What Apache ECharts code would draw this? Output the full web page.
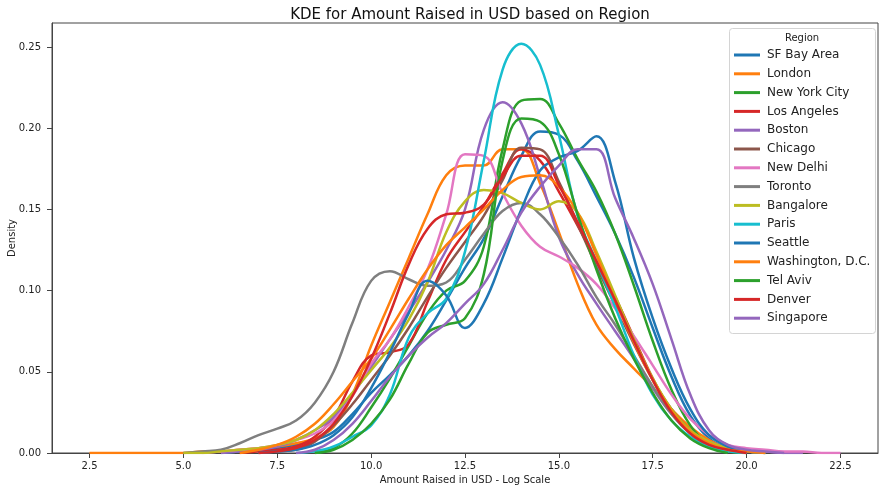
<!DOCTYPE html>
<html>
<head>
<meta charset="utf-8">
<script src="https://cdn.jsdelivr.net/npm/echarts@6/dist/echarts.min.js"></script>
<style>
  html, body { margin: 0; padding: 0; background: #fff; }
  #chart { width: 880px; height: 487px; }
</style>
</head>
<body>
<div id="chart"></div>
<script>
// Log10 of amount raised, evaluated every 0.5 from 2.5 to 22.5
const amountGrid = [2.5, 3, 3.5, 4, 4.5, 5, 5.5, 6, 6.5, 7, 7.5, 8, 8.5, 9, 9.5, 10, 10.5, 11, 11.5, 12,
  12.5, 13, 13.5, 14, 14.5, 15, 15.5, 16, 16.5, 17, 17.5, 18, 18.5, 19, 19.5, 20, 20.5, 21, 21.5, 22, 22.5];

const regions = ['SF Bay Area', 'London', 'New York City', 'Los Angeles', 'Boston', 'Chicago', 'New Delhi',
  'Toronto', 'Bangalore', 'Paris', 'Seattle', 'Washington, D.C.', 'Tel Aviv', 'Denver', 'Singapore'];

// Estimated density per region (null = outside the curve's support)
const sfBayArea = [null, null, null, null, null, null, null, 0.000, 0.001, 0.002, 0.003, 0.005, 0.008, 0.013, 0.024, 0.037, 0.048, 0.060, 0.075, 0.094,
  0.114, 0.132, 0.158, 0.183, 0.198, 0.196, 0.180, 0.158, 0.135, 0.108, 0.077, 0.047, 0.023, 0.009, 0.003, 0.001, 0.000, null, null, null, null];
const london = [0.000, 0.000, 0.000, 0.000, 0.000, 0.000, 0.001, 0.001, 0.002, 0.003, 0.004, 0.006, 0.009, 0.016, 0.036, 0.066, 0.093, 0.120, 0.147, 0.171,
  0.177, 0.177, 0.187, 0.187, 0.166, 0.136, 0.104, 0.079, 0.064, 0.052, 0.040, 0.027, 0.016, 0.008, 0.003, 0.001, 0.000, null, null, null, null];
const newYorkCity = [null, null, null, null, null, null, null, null, null, null, null, null, 0.000, 0.003, 0.012, 0.028, 0.046, 0.066, 0.086, 0.100,
  0.106, 0.127, 0.187, 0.217, 0.218, 0.203, 0.181, 0.161, 0.135, 0.103, 0.069, 0.039, 0.017, 0.005, 0.001, 0.000, null, null, null, null, null];
const losAngeles = [null, null, null, null, null, null, null, null, 0.000, 0.001, 0.002, 0.004, 0.010, 0.022, 0.044, 0.060, 0.062, 0.067, 0.093, 0.119,
  0.136, 0.152, 0.172, 0.187, 0.180, 0.161, 0.140, 0.118, 0.096, 0.071, 0.046, 0.026, 0.013, 0.005, 0.002, 0.000, null, null, null, null, null];
const boston = [null, null, null, null, null, null, null, 0.000, 0.001, 0.002, 0.004, 0.008, 0.014, 0.022, 0.036, 0.053, 0.070, 0.087, 0.105, 0.125,
  0.150, 0.199, 0.216, 0.203, 0.170, 0.133, 0.110, 0.092, 0.075, 0.058, 0.040, 0.024, 0.013, 0.007, 0.003, 0.001, 0.001, 0.000, 0.000, null, null];
const chicago = [null, null, null, null, null, null, null, null, null, 0.000, 0.001, 0.002, 0.007, 0.017, 0.030, 0.045, 0.060, 0.077, 0.096, 0.114,
  0.130, 0.146, 0.168, 0.188, 0.187, 0.167, 0.141, 0.115, 0.091, 0.067, 0.045, 0.027, 0.014, 0.006, 0.002, 0.000, null, null, null, null, null];
const newDelhi = [null, null, null, null, null, null, 0.000, 0.001, 0.002, 0.003, 0.005, 0.008, 0.012, 0.020, 0.035, 0.055, 0.070, 0.090, 0.113, 0.147,
  0.184, 0.183, 0.160, 0.140, 0.127, 0.121, 0.114, 0.104, 0.089, 0.072, 0.054, 0.036, 0.021, 0.011, 0.005, 0.003, 0.002, 0.001, 0.001, 0.000, 0.000];
const toronto = [null, null, null, null, null, 0.000, 0.001, 0.002, 0.006, 0.011, 0.015, 0.020, 0.031, 0.050, 0.080, 0.106, 0.112, 0.107, 0.103, 0.105,
  0.119, 0.135, 0.149, 0.154, 0.147, 0.133, 0.116, 0.096, 0.079, 0.060, 0.041, 0.024, 0.012, 0.006, 0.003, 0.001, 0.000, null, null, null, null];
const bangalore = [null, null, null, null, null, 0.000, 0.000, 0.001, 0.002, 0.003, 0.005, 0.008, 0.014, 0.024, 0.037, 0.051, 0.065, 0.082, 0.105, 0.136,
  0.155, 0.162, 0.160, 0.154, 0.150, 0.155, 0.148, 0.124, 0.097, 0.070, 0.046, 0.027, 0.014, 0.007, 0.003, 0.001, 0.000, null, null, null, null];
const paris = [null, null, null, null, null, null, null, null, null, null, null, 0.000, 0.001, 0.004, 0.010, 0.017, 0.036, 0.071, 0.086, 0.095,
  0.124, 0.180, 0.236, 0.252, 0.239, 0.196, 0.146, 0.118, 0.090, 0.060, 0.036, 0.020, 0.010, 0.004, 0.001, 0.000, null, null, null, null, null];
const seattle = [null, null, null, null, null, null, null, null, null, 0.000, 0.001, 0.002, 0.005, 0.011, 0.022, 0.040, 0.062, 0.086, 0.106, 0.097,
  0.077, 0.092, 0.120, 0.150, 0.174, 0.182, 0.186, 0.195, 0.167, 0.120, 0.083, 0.052, 0.027, 0.011, 0.004, 0.001, 0.000, null, null, null, null];
const washingtonDC = [null, null, null, null, null, null, null, null, 0.000, 0.002, 0.005, 0.010, 0.018, 0.030, 0.044, 0.058, 0.076, 0.095, 0.113, 0.128,
  0.139, 0.150, 0.162, 0.170, 0.171, 0.164, 0.148, 0.122, 0.094, 0.068, 0.045, 0.026, 0.013, 0.006, 0.002, 0.001, 0.000, null, null, null, null];
const telAviv = [null, null, null, null, null, null, null, null, null, null, null, null, 0.000, 0.002, 0.008, 0.018, 0.033, 0.055, 0.074, 0.079,
  0.083, 0.110, 0.180, 0.206, 0.204, 0.184, 0.147, 0.113, 0.083, 0.058, 0.037, 0.020, 0.009, 0.003, 0.000, null, null, null, null, null, null];
const denver = [null, null, null, null, null, null, null, null, null, 0.000, 0.001, 0.003, 0.008, 0.018, 0.035, 0.058, 0.086, 0.116, 0.138, 0.147,
  0.148, 0.153, 0.170, 0.183, 0.183, 0.165, 0.142, 0.118, 0.094, 0.069, 0.045, 0.025, 0.012, 0.005, 0.002, 0.000, null, null, null, null, null];
const singapore = [null, null, null, null, null, null, null, null, null, null, null, 0.000, 0.002, 0.008, 0.018, 0.032, 0.047, 0.060, 0.071, 0.080,
  0.092, 0.104, 0.125, 0.148, 0.164, 0.177, 0.187, 0.187, 0.157, 0.132, 0.104, 0.070, 0.036, 0.014, 0.005, 0.002, 0.001, 0.000, null, null, null];

const densities = [sfBayArea, london, newYorkCity, losAngeles, boston, chicago, newDelhi,
  toronto, bangalore, paris, seattle, washingtonDC, telAviv, denver, singapore];

const xTicks = [2.5, 5, 7.5, 10, 12.5, 15, 17.5, 20, 22.5];
const yTicks = [0, 0.05, 0.10, 0.15, 0.20, 0.25];

// matplotlib tab10 cycle
const palette = ['#1f77b4', '#ff7f0e', '#2ca02c', '#d62728', '#9467bd', '#8c564b', '#e377c2',
  '#7f7f7f', '#bcbd22', '#17becf'];

const FONT = 'DejaVu Sans';

const series = regions.map((name, k) => ({
  name,
  type: 'line',
  showSymbol: false,
  smooth: 0.4,
  color: palette[k % palette.length],
  lineStyle: { width: 2.5 },
  emphasis: { disabled: true },
  data: amountGrid.map((x, i) => [x, densities[k][i]]).filter(p => p[1] !== null)
}));

const chart = echarts.init(document.getElementById('chart'));
chart.setOption({
  animation: false,
  backgroundColor: '#fff',
  title: {
    text: 'KDE for Amount Raised in USD based on Region',
    left: 465,
    top: 3,
    textAlign: 'center',
    textStyle: { fontFamily: FONT, fontSize: 15, fontWeight: 'normal', color: '#111' }
  },
  grid: {
    left: 52, right: 2, top: 23, bottom: 34,
    containLabel: false,
    outerBoundsMode: 'none',
    show: true, borderColor: '#444', borderWidth: 1, backgroundColor: '#fff'
  },
  xAxis: {
    type: 'value',
    min: 1.5, max: 23.5,
    splitLine: { show: false },
    axisLine: { show: true, onZero: false, lineStyle: { color: '#444', width: 1 } },
    axisTick: { show: true, length: 5, customValues: xTicks, lineStyle: { color: '#444' } },
    axisLabel: {
      customValues: xTicks, formatter: v => v.toFixed(1),
      fontFamily: FONT, fontSize: 10, color: '#222', margin: 8
    },
    name: 'Amount Raised in USD - Log Scale',
    nameLocation: 'middle', nameGap: 22,
    nameTextStyle: { fontFamily: FONT, fontSize: 10, color: '#222' }
  },
  yAxis: {
    type: 'value',
    min: 0, max: 0.2648,
    splitLine: { show: false },
    axisLine: { show: true, lineStyle: { color: '#444', width: 1 } },
    axisTick: { show: true, length: 5, customValues: yTicks, lineStyle: { color: '#444' } },
    axisLabel: {
      customValues: yTicks, formatter: v => v.toFixed(2),
      fontFamily: FONT, fontSize: 10, color: '#222', margin: 11
    }
  },
  legend: {
    orient: 'vertical',
    left: 734, top: 48,
    icon: 'rect',
    itemWidth: 26, itemHeight: 3,
    itemGap: 4.8,
    padding: 0,
    selectedMode: false,
    textStyle: { fontFamily: FONT, fontSize: 12, color: '#222', lineHeight: 14, padding: [0, 0, 0, 2] },
    data: regions
  },
  graphic: [
    {
      // y-axis title
      type: 'text', z: 4,
      x: 12, y: 238, rotation: Math.PI / 2,
      style: { text: 'Density', fontFamily: FONT, fontSize: 10, fill: '#222', align: 'center', verticalAlign: 'middle' }
    },
    {
      type: 'rect', z: 3,
      shape: { x: 729.5, y: 28.5, width: 146, height: 305, r: 3 },
      style: { fill: 'rgba(255,255,255,0.9)', stroke: '#d4d4d4', lineWidth: 1 }
    },
    {
      type: 'text', z: 4,
      x: 802, y: 38,
      style: { text: 'Region', fontFamily: FONT, fontSize: 10, fill: '#222', align: 'center', verticalAlign: 'middle' }
    }
  ],
  series
});
</script>
</body>
</html>
